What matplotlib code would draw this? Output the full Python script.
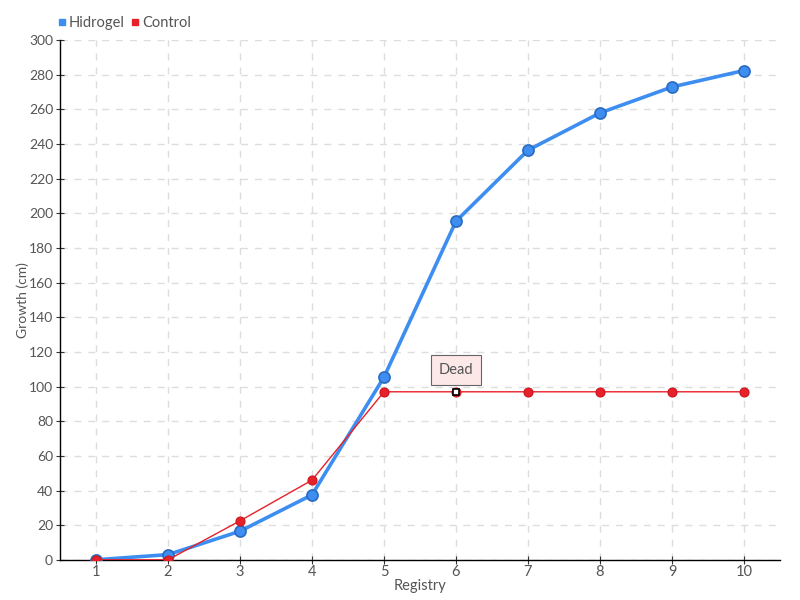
import matplotlib
matplotlib.use("Agg")
import matplotlib.pyplot as plt
from matplotlib.lines import Line2D

registry = [1, 2, 3, 4, 5, 6, 7, 8, 9, 10]
hidrogel = [0, 3, 16.5, 37.5, 105.5, 195.5, 236.5, 258, 273, 282.5]
control = [0, 0, 22.5, 46, 97, 97, 97, 97, 97, 97]
yticks = list(range(0, 301, 20))
dead_index = 5
dead_label = "Dead"

plt.rcParams['font.family'] = ['Lato', 'DejaVu Sans']
txt = '#555555'

fig = plt.figure(figsize=(8, 6), dpi=100)
ax = fig.add_axes([0.075, 0.067, 0.9, 0.866])

ax.plot(registry, hidrogel, color='#3d8ef0', lw=2.6, marker='o', ms=8,
        mfc='#3d8ef0', mec='#2a6ac0', mew=1.2, zorder=3)
ax.plot(registry, control, color='#e8202a', lw=1, marker='o', ms=6.5,
        mfc='#e8202a', mec='#c81820', mew=0.8, zorder=4)
ax.plot([registry[dead_index]], [control[dead_index]], marker='s', ms=5,
        mfc='white', mec='black', mew=1.2, ls='none', zorder=5)

ax.annotate(dead_label, xy=(registry[dead_index], control[dead_index]),
            xytext=(0, 15.5), textcoords='offset points', ha='center', va='center',
            fontsize=10.5, color=txt,
            bbox=dict(boxstyle='square,pad=0.55', fc='#fde8e8', ec='#666666', lw=0.8),
            zorder=6)

ax.set_xlim(0.5, 10.5)
ax.set_ylim(0, 300)
ax.set_xticks(registry)
ax.set_yticks(yticks)
ax.grid(True, color='#dddddd', ls=(0, (5, 5)), lw=1)
ax.set_axisbelow(True)
for s in ['top', 'right']:
    ax.spines[s].set_visible(False)
for s in ['left', 'bottom']:
    ax.spines[s].set_color('black')
    ax.spines[s].set_linewidth(1)
ax.tick_params(axis='y', direction='inout', length=6, labelsize=10, labelcolor=txt, color='#333333', pad=2)
ax.tick_params(axis='x', direction='inout', length=6, labelsize=10.5, labelcolor=txt, color='#333333', pad=1)
ax.set_xlabel('Registry', color=txt, fontsize=10.5, labelpad=0)
ax.set_ylabel('Growth (cm)', color=txt, fontsize=10)
ax.yaxis.set_label_coords(-0.043, 0.5)

handles = [Line2D([], [], ls='none', marker='s', ms=4.5, color='#3d8ef0'),
           Line2D([], [], ls='none', marker='s', ms=4.5, color='#e8202a')]
fig.legend(handles, ['Hidrogel', 'Control'], loc='upper left', bbox_to_anchor=(0.055, 0.995),
           ncol=2, frameon=False, fontsize=10.5, handlelength=0.6, handletextpad=0.2,
           columnspacing=0.4, labelcolor=txt)

fig.savefig('out.png', dpi=100)
